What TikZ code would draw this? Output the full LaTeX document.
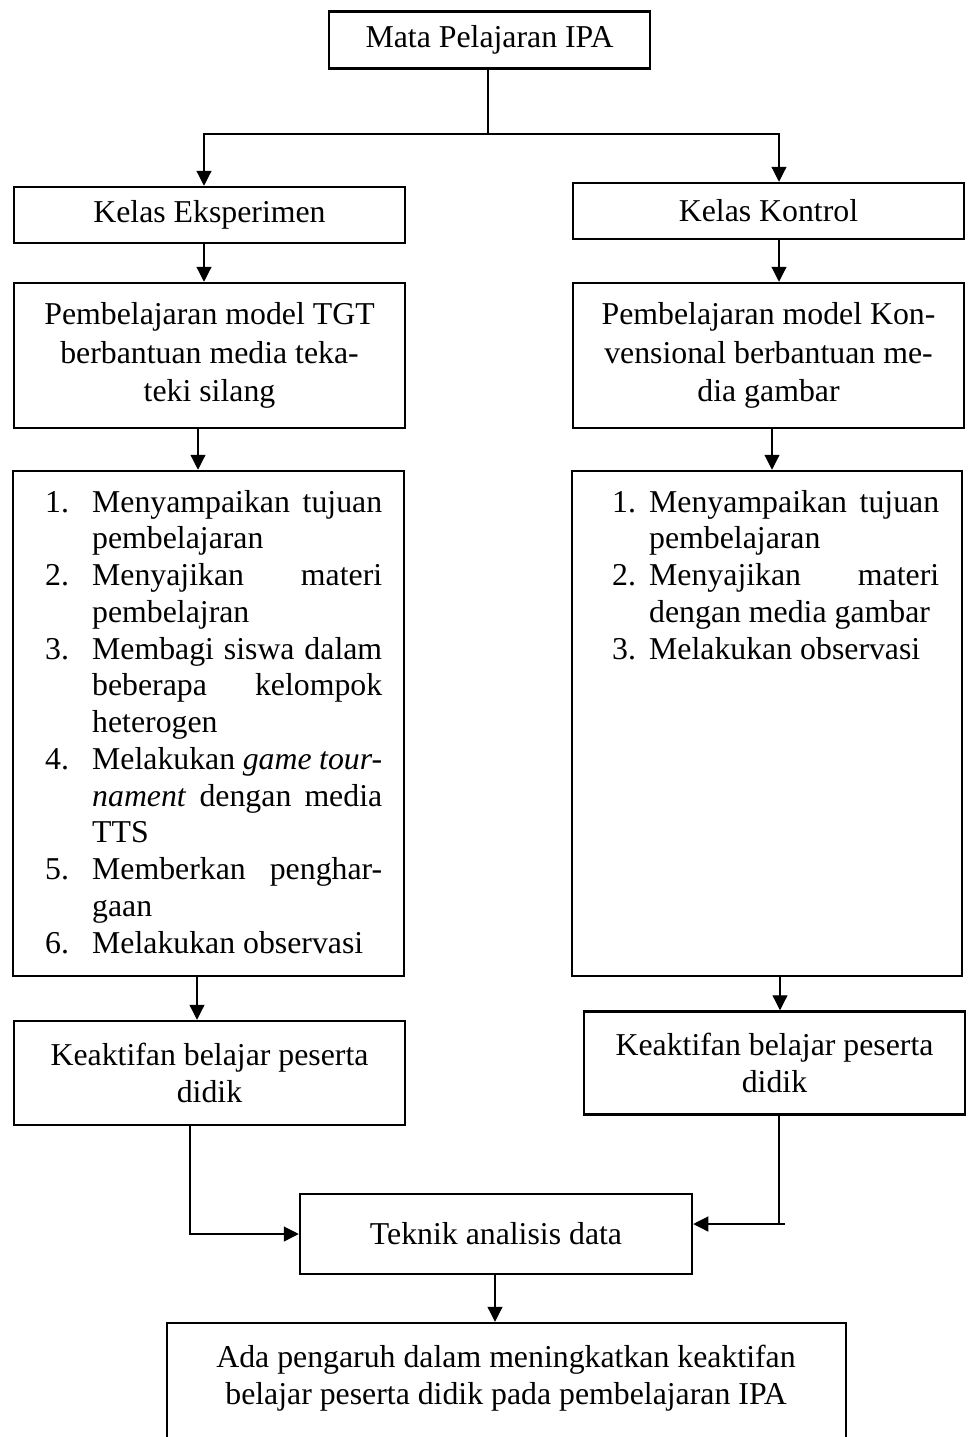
\documentclass[tikz,border=0pt]{standalone}
\usepackage{fontspec}
\setmainfont{Liberation Serif}
\usetikzlibrary{arrows.meta}
\newcommand{\jl}[1]{\makebox[290pt][s]{#1}}
\newcommand{\liL}[2]{\makebox[47pt][l]{#1}#2}
\newcommand{\liR}[2]{\makebox[37pt][l]{#1}#2}
\begin{document}
\begin{tikzpicture}[x=1pt,y=-1pt,
  box/.style={draw,line width=2.5pt,rectangle,inner sep=0pt,align=center,
     font=\fontsize{31.8}{37.5}\selectfont},
  txt/.style={inner sep=0pt,align=center,font=\fontsize{31.8}{37.5}\selectfont},
  conn/.style={line width=1.2pt},
  arr/.style={line width=1.2pt,-{Triangle[length=15pt,width=15pt]}}]
\useasboundingbox (0,0) rectangle (967,1437);
\fill[white] (0,0) rectangle (967,1437);

\node[box,minimum width=321pt,minimum height=57pt] (top) at (489.5,40) {Mata Pelajaran IPA};
\node[box,minimum width=391pt,minimum height=56pt] (eks) at (209.5,215) {Kelas Eksperimen};
\node[box,minimum width=391pt,minimum height=56pt] (kon) at (768.5,211) {Kelas Kontrol};
\node[box,minimum width=391pt,minimum height=145pt,font=\fontsize{31.8}{38.5}\selectfont] (tgt) at (209.5,355.5)
  {Pembelajaran model TGT\\berbantuan media teka-\\teki silang};
\node[box,minimum width=391pt,minimum height=145pt,font=\fontsize{31.8}{38.5}\selectfont] (kvn) at (768.5,355.5)
  {Pembelajaran model Kon-\\vensional berbantuan me-\\dia gambar};
\node[box,minimum width=391pt,minimum height=505pt] (listL) at (208.5,723.5) {};
\node[box,minimum width=390pt,minimum height=505pt] (listR) at (767,723.5) {};
\node[inner sep=0pt,anchor=base west,font=\fontsize{31.8}{36.75}\selectfont] (listLtxt) at (45,512)
 {\parbox[t]{337pt}{%
\liL{1.}{\jl{Menyampaikan tujuan}}\\
\liL{}{pembelajaran}\\
\liL{2.}{\jl{Menyajikan materi}}\\
\liL{}{pembelajran}\\
\liL{3.}{\jl{Membagi siswa dalam}}\\
\liL{}{\jl{beberapa kelompok}}\\
\liL{}{heterogen}\\
\liL{4.}{\jl{Melakukan \textit{game tour-}}}\\
\liL{}{\jl{\textit{nament} dengan media}}\\
\liL{}{TTS}\\
\liL{5.}{\jl{Memberkan penghar-}}\\
\liL{}{gaan}\\
\liL{6.}{Melakukan observasi}}};
\node[inner sep=0pt,anchor=base west,font=\fontsize{31.8}{36.75}\selectfont] (listRtxt) at (612,512)
 {\parbox[t]{327pt}{%
\liR{1.}{\jl{Menyampaikan tujuan}}\\
\liR{}{pembelajaran}\\
\liR{2.}{\jl{Menyajikan materi}}\\
\liR{}{dengan media gambar}\\
\liR{3.}{Melakukan observasi}}};
\node[box,minimum width=391pt,minimum height=104pt] (keakL) at (209.5,1073)
  {Keaktifan belajar peserta\\didik};
\node[box,minimum width=381pt,minimum height=103pt] (keakR) at (774.5,1063)
  {Keaktifan belajar peserta\\didik};
\node[box,minimum width=392pt,minimum height=80pt] (tek) at (496,1234) {Teknik analisis data};
\begin{scope}
\clip (0,0) rectangle (967,1437);
\node[box,minimum width=679pt,minimum height=160pt] (fin) at (506.5,1403) {};
\end{scope}
\node[txt] (fintxt) at (506,1378) {Ada pengaruh dalam meningkatkan keaktifan\\belajar peserta didik pada pembelajaran IPA};

% connectors
\coordinate (split) at (488,134);
\draw[conn] (top.south -| split) -- (split);
\draw[arr] (split) -| ([xshift=-5.5pt]eks.north);
\draw[arr] (split) -| ([xshift=10.5pt]kon.north);
\draw[arr] ([xshift=-5.5pt]eks.south) -- ([xshift=-5.5pt]tgt.north);
\draw[arr] ([xshift=10.5pt]kon.south) -- ([xshift=10.5pt]kvn.north);
\draw[arr] ([xshift=-11.5pt]tgt.south) -- ([xshift=-10.5pt]listL.north);
\draw[arr] ([xshift=3.5pt]kvn.south) -- ([xshift=5pt]listR.north);
\draw[arr] ([xshift=-11.5pt]listL.south) -- ([xshift=-12.5pt]keakL.north);
\draw[arr] ([xshift=13pt]listR.south) -- ([xshift=5.5pt]keakR.north);
\draw[arr] ([xshift=-19.5pt]keakL.south) |- (tek.west);
\coordinate (stub) at (785,1224);
\draw[conn] ([xshift=4.5pt]keakR.south) |- (stub);
\draw[arr] (stub) -- (tek.east |- stub);
\draw[arr] ([xshift=-1pt]tek.south) -- ([xshift=-1pt]tek.south |- fin.north);
\end{tikzpicture}
\end{document}
